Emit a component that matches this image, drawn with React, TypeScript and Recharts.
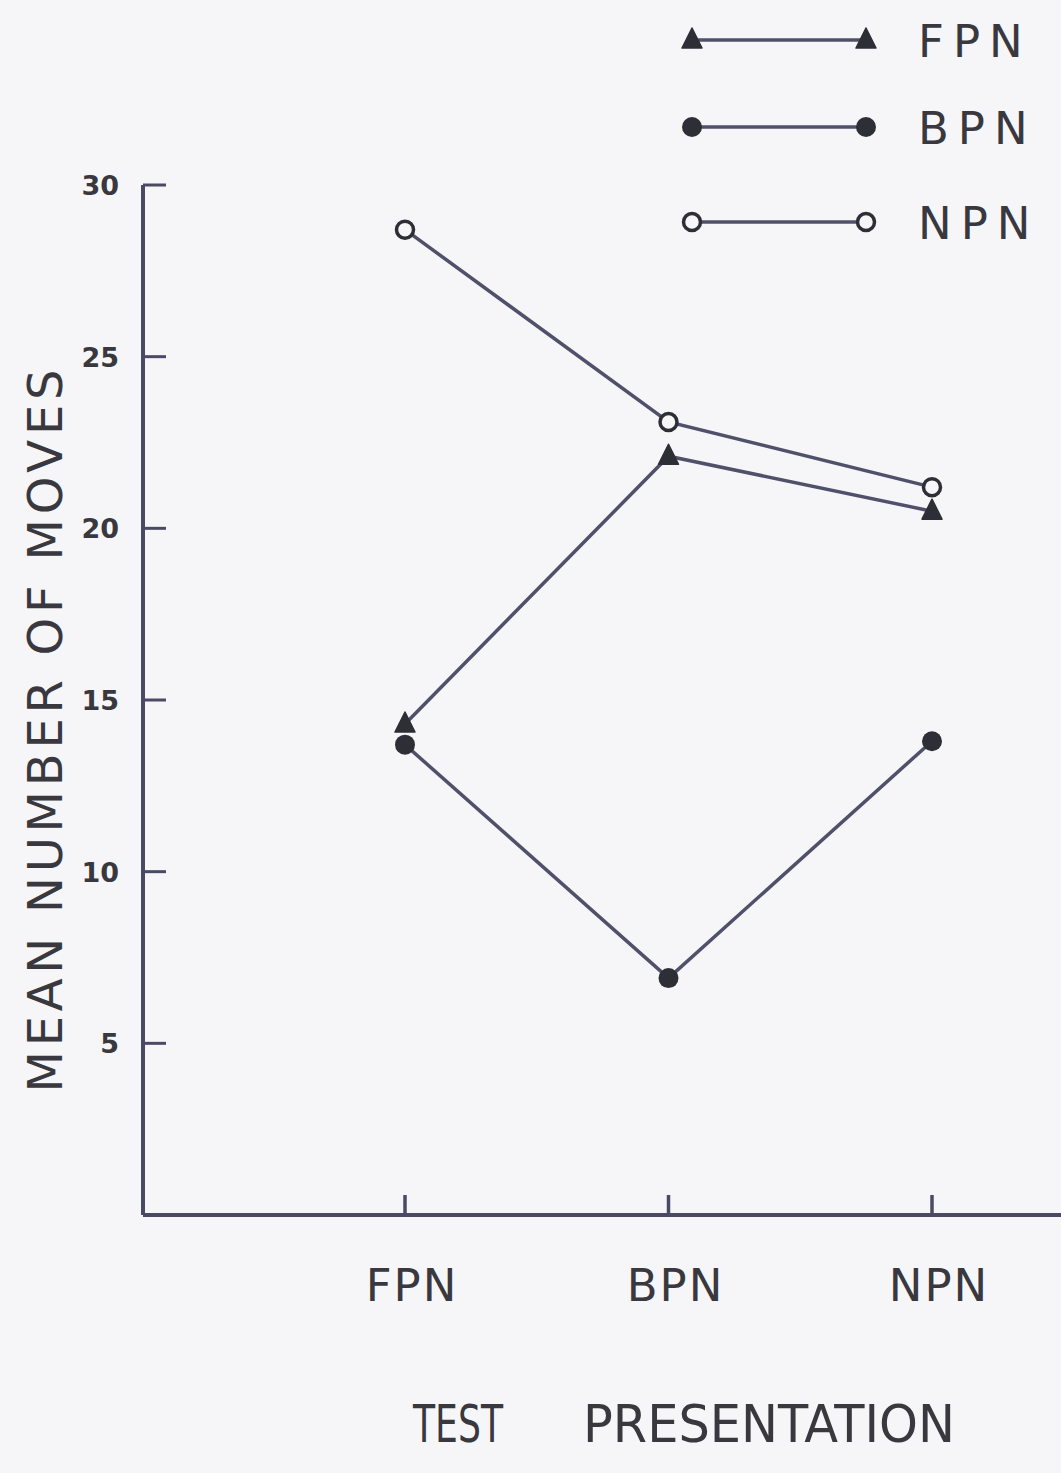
import React from 'react';
import { LineChart, Line, XAxis, YAxis } from 'recharts';

const categories = ['FPN', 'BPN', 'NPN'];
const fpnValues = [14.3, 22.1, 20.5];
const bpnValues = [13.7, 6.9, 13.8];
const npnValues = [28.7, 23.1, 21.2];
const yTicks = [5, 10, 15, 20, 25, 30];
const seriesNames = ['FPN', 'BPN', 'NPN'];
const seriesKeys = ['fpn', 'bpn', 'npn'];

const data = categories.map((c, i) => ({
  cat: c,
  fpn: fpnValues[i],
  bpn: bpnValues[i],
  npn: npnValues[i],
}));

const W = 1061;
const H = 1473;
const BG = '#f6f6f8';
const AXIS = '#4a4a66';
const LINE = '#50506a';
const MARK = '#2e2e36';
const TEXT = '#38383e';
const FONT = '"DejaVu Sans", sans-serif';

const Triangle = ({ cx, cy }: any) => (
  <polygon
    points={`${cx},${cy - 12} ${cx - 10},${cy + 8} ${cx + 10},${cy + 8}`}
    fill={MARK}
    stroke={MARK}
    strokeWidth={1.5}
    strokeLinejoin="round"
  />
);
const Filled = ({ cx, cy }: any) => <circle cx={cx} cy={cy} r={10} fill={MARK} />;
const Open = ({ cx, cy }: any) => (
  <circle cx={cx} cy={cy} r={8.5} fill={BG} stroke={MARK} strokeWidth={3.5} />
);
const markers = [Triangle, Filled, Open];

const XTick = (props: any) => {
  const { x, y, payload } = props;
  return (
    <g>
      <line x1={x} y1={y} x2={x} y2={y - 20} stroke={AXIS} strokeWidth={3.5} />
      <text
        x={x + 7}
        y={y + 86}
        textAnchor="middle"
        fontFamily={FONT}
        fontSize={45}
        fill={TEXT}
        letterSpacing={2}
      >
        {payload.value}
      </text>
    </g>
  );
};

const YTick = (props: any) => {
  const { x, y, payload } = props;
  return (
    <g>
      <line x1={x} y1={y} x2={x + 23} y2={y} stroke={AXIS} strokeWidth={3} />
      <text
        x={x - 24}
        y={y + 10}
        textAnchor="end"
        fontFamily={FONT}
        fontWeight="bold"
        fontSize={27}
        fill={TEXT}
      >
        {payload.value}
      </text>
    </g>
  );
};

const YLabel = () => (
  <text
    transform="translate(62, 731) rotate(-90)"
    textAnchor="middle"
    fontFamily={FONT}
    fontSize={48}
    fill={TEXT}
    textLength={723}
    lengthAdjust="spacing"
  >
    MEAN NUMBER OF MOVES
  </text>
);

const XLabel = () => (
  <g fontFamily={FONT} fontSize={52} fill={TEXT}>
    <text x={413} y={1442} textLength={90} lengthAdjust="spacingAndGlyphs">
      TEST
    </text>
    <text x={583} y={1442} textLength={372} lengthAdjust="spacingAndGlyphs">
      PRESENTATION
    </text>
  </g>
);

const LegendBox = () => (
  <svg width={W} height={260} style={{ position: 'absolute', left: 0, top: 0, pointerEvents: 'none' }}>
    {seriesNames.map((name, i) => {
      const y = [40, 127, 222][i];
      const M = markers[i];
      return (
        <g key={name}>
          <line x1={690} y1={y} x2={866} y2={y} stroke={LINE} strokeWidth={3.5} />
          <M cx={692} cy={y} />
          <M cx={866} cy={y} />
          <text
            x={918}
            y={y + 17}
            fontFamily={FONT}
            fontSize={45}
            fill={TEXT}
            letterSpacing={9}
          >
            {name}
          </text>
        </g>
      );
    })}
  </svg>
);

export default function App() {
  return (
    <div style={{ position: 'absolute', left: 0, top: 0, width: W, height: H, background: BG }}>
      <LineChart width={W} height={H} data={data} margin={{ top: 185, right: 0, bottom: 0, left: 0 }}>
        <XAxis
          dataKey="cat"
          height={258}
          padding={{ left: 262, right: 129 }}
          axisLine={{ stroke: AXIS, strokeWidth: 4 }}
          tickLine={false}
          tickSize={0}
          tickMargin={0}
          interval={0}
          tick={XTick}
          label={XLabel}
        />
        <YAxis
          width={143}
          type="number"
          domain={[0, 30]}
          ticks={yTicks}
          axisLine={{ stroke: AXIS, strokeWidth: 4 }}
          tickLine={false}
          tickSize={0}
          tickMargin={0}
          tick={YTick}
          label={YLabel}
        />
        {seriesKeys.map((k, i) => {
          const M = markers[i];
          return (
            <Line
              key={k}
              dataKey={k}
              name={seriesNames[i]}
              stroke={LINE}
              strokeWidth={3.5}
              dot={(p: any) => <M key={`${k}-${p.index}`} cx={p.cx} cy={p.cy} />}
              isAnimationActive={false}
            />
          );
        })}
      </LineChart>
      <LegendBox />
    </div>
  );
}
